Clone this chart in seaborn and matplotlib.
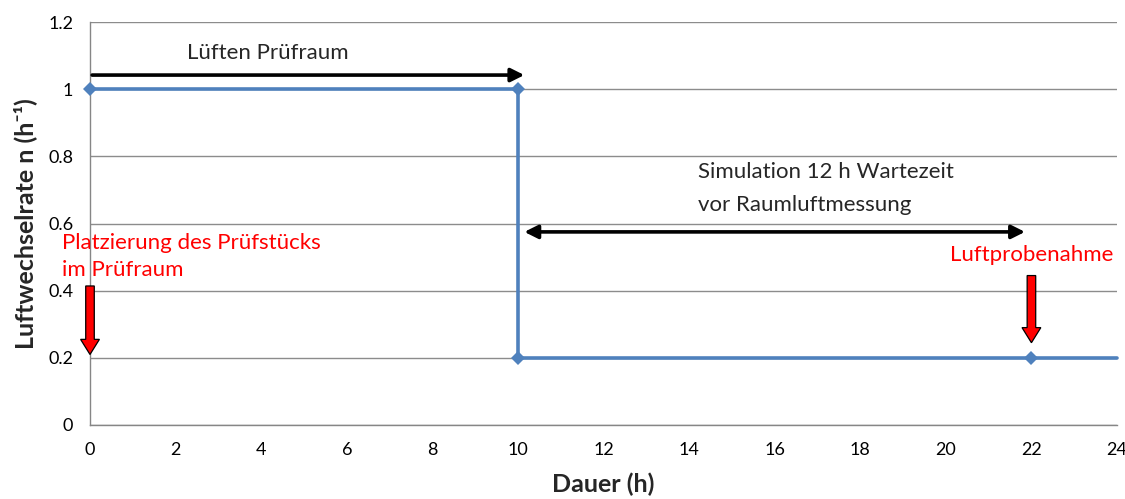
import matplotlib
matplotlib.use("Agg")
import matplotlib.pyplot as plt
import seaborn as sns
import pandas as pd
from matplotlib.patches import FancyArrow

# Air change rate profile over the test duration
dauer_h = [0, 10, 10, 22, 24]
luftwechsel = [1.0, 1.0, 0.2, 0.2, 0.2]
x_ticks = [0, 2, 4, 6, 8, 10, 12, 14, 16, 18, 20, 22, 24]
y_ticks = [0, 0.2, 0.4, 0.6, 0.8, 1.0, 1.2]
y_tick_labels = ["0", "0.2", "0.4", "0.6", "0.8", "1", "1.2"]

sns.set_style("white")
plt.rcParams["font.family"] = ["Lato", "DejaVu Sans"]

fig = plt.figure(figsize=(11.25, 4.99), dpi=100)
ax = fig.add_axes([0.080, 0.1483, 0.9129, 0.8076])

df = pd.DataFrame({"Dauer": dauer_h, "n": luftwechsel})
sns.lineplot(data=df, x="Dauer", y="n", sort=False, estimator=None, ax=ax,
             color="#4F81BD", linewidth=2.6, marker="D", markersize=7,
             markeredgewidth=0, markevery=[0, 1, 2, 3], clip_on=False, zorder=3)

ax.set_xlim(0, 24)
ax.set_ylim(0, 1.2)
ax.set_xticks(x_ticks)
ax.set_xticklabels([str(t) for t in x_ticks])
ax.set_yticks(y_ticks)
ax.set_yticklabels(y_tick_labels)
ax.tick_params(axis="both", labelsize=13, colors="#000000", length=6,
               width=1, direction="out", pad=6)
ax.tick_params(axis="both", color="#868686")
ax.yaxis.grid(True, color="#8C8C8C", linewidth=1)
ax.xaxis.grid(False)
for s in ["top", "right"]:
    ax.spines[s].set_visible(False)
for s in ["left", "bottom"]:
    ax.spines[s].set_color("#868686")
    ax.spines[s].set_linewidth(1)

ax.set_xlabel("Dauer (h)", fontsize=18, fontweight="bold", labelpad=11)
ax.set_ylabel("Luftwechselrate n (h\u207b\u00b9)", fontsize=18,
              fontweight="bold", labelpad=8)

# Ventilation phase arrow
ax.annotate("", xy=(10.15, 1.042), xytext=(0.05, 1.042),
            arrowprops=dict(arrowstyle="-|>,head_length=0.8,head_width=0.4",
                            color="black", lw=2.6, shrinkA=0, shrinkB=0))
ax.text(4.15, 1.107, "Lüften Prüfraum", fontsize=16, ha="center", va="center")

# Waiting period arrow
ax.annotate("", xy=(21.85, 0.575), xytext=(10.15, 0.575),
            arrowprops=dict(arrowstyle="<|-|>,head_length=0.8,head_width=0.4",
                            color="black", lw=2.6, shrinkA=0, shrinkB=0))
ax.text(14.2, 0.753, "Simulation 12 h Wartezeit", fontsize=16, ha="left", va="center")
ax.text(14.2, 0.655, "vor Raumluftmessung", fontsize=16, ha="left", va="center")

# Sample placement and air sampling markers
ax.text(-0.65, 0.542, "Platzierung des Prüfstücks", fontsize=16, color="#FF0000",
        ha="left", va="center", clip_on=False)
ax.text(-0.65, 0.462, "im Prüfraum", fontsize=16, color="#FF0000",
        ha="left", va="center", clip_on=False)
ax.text(22.0, 0.505, "Luftprobenahme", fontsize=16, color="#FF0000",
        ha="center", va="center")

def down_arrow(x, y_top, y_tip):
    arr = FancyArrow(x, y_top, 0, y_tip - y_top, width=0.2, head_width=0.44,
                     head_length=0.045, length_includes_head=True,
                     facecolor="#FF0000", edgecolor="black", linewidth=0.9,
                     clip_on=False, zorder=4)
    ax.add_patch(arr)

down_arrow(0.0, 0.414, 0.21)
down_arrow(22.0, 0.445, 0.245)

fig.savefig("out.png", dpi=100)
